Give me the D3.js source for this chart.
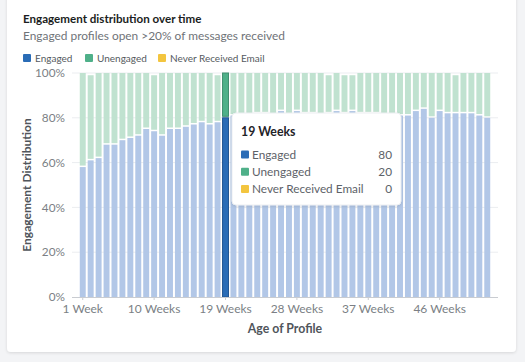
<!DOCTYPE html>
<html>
<head>
<meta charset="utf-8">
<script src="https://cdn.jsdelivr.net/npm/d3@7"></script>
<style>
  body { margin: 0; background: #f3f4f6; font-family: Lato, "Noto Sans", sans-serif; }
  svg { display: block; }
</style>
</head>
<body>
<script>
// chart data (percent of profiles per week of age)
const weeks = d3.range(1, 53).map(w => w === 1 ? "1 Week" : w + " Weeks");
const engaged = [58, 61, 62, 68, 68, 70, 71, 72, 75, 74, 72, 75, 75, 76, 77, 78, 77, 78, 80,
  81, 81, 81, 82, 82, 81, 83, 81, 83, 82, 82, 81, 82, 83, 82, 83, 82, 82, 82, 81, 81, 81,
  81, 83, 84, 80, 83, 82, 82, 82, 82, 81, 80];
const unengaged = [42, 38, 38, 32, 32, 30, 29, 28, 25, 25, 28, 25, 25, 24, 23, 22, 23, 21, 20,
  19, 19, 19, 18, 18, 19, 17, 19, 17, 18, 18, 19, 17, 17, 17, 16, 18, 18, 18, 19, 19, 19,
  19, 17, 16, 20, 17, 18, 17, 18, 18, 19, 20];
const neverReceived = weeks.map(() => 0);
const seriesNames = ["Engaged", "Unengaged", "Never Received Email"];
const yTicks = [0, 20, 40, 60, 80, 100];
const xTickLabels = ["1 Week", "10 Weeks", "19 Weeks", "28 Weeks", "37 Weeks", "46 Weeks"];
const highlighted = "19 Weeks";

const W = 525, H = 362;
const margin = { top: 73, right: 27, bottom: 65, left: 72 };

const colors = ["#2a6cb6", "#4fb089", "#f3c53f"];
const fadedColors = ["#b2c7e7", "#c0e2d0", "#f8e6aa"];

const svg = d3.select("body").append("svg")
  .attr("width", W)
  .attr("height", H);

// card
const defs = svg.append("defs");
const sh = defs.append("filter").attr("id", "shadow")
  .attr("x", "-10%").attr("y", "-10%").attr("width", "120%").attr("height", "130%");
sh.append("feDropShadow").attr("dx", 0).attr("dy", 1).attr("stdDeviation", 1.5)
  .attr("flood-color", "#000").attr("flood-opacity", 0.12);

svg.append("rect")
  .attr("x", 7).attr("y", -10)
  .attr("width", 509).attr("height", 362)
  .attr("rx", 4)
  .attr("fill", "#fff")
  .attr("filter", "url(#shadow)");

// title + subtitle
svg.append("text")
  .attr("x", 23).attr("y", 23)
  .attr("font-size", 11.6).attr("font-weight", 700)
  .attr("fill", "#1a1d21")
  .text("Engagement distribution over time");

svg.append("text")
  .attr("x", 23).attr("y", 39.5)
  .attr("font-size", 11.9)
  .attr("fill", "#6f7378")
  .text("Engaged profiles open >20% of messages received");

// legend
const legendX = [23, 85, 158];
const legend = svg.append("g").selectAll("g")
  .data(seriesNames)
  .enter().append("g")
  .attr("transform", (d, i) => "translate(" + legendX[i] + ",54)");
legend.append("rect")
  .attr("width", 8).attr("height", 8).attr("rx", 1)
  .attr("fill", (d, i) => colors[i]);
legend.append("text")
  .attr("x", 12).attr("y", 7.8)
  .attr("font-size", 10).attr("fill", "#555a60")
  .text(d => d);

const plotW = W - margin.left - margin.right;
const plotH = H - margin.top - margin.bottom;

const g = svg.append("g")
  .attr("transform", "translate(" + margin.left + "," + margin.top + ")");

const x = d3.scaleBand()
  .domain(weeks)
  .range([0, plotW])
  .paddingInner(0.25)
  .paddingOuter(0.98);

const y = d3.scaleLinear()
  .domain([0, 100])
  .range([plotH, 0]);

// gridlines
g.append("g").selectAll("line")
  .data(yTicks.filter(t => t > 0))
  .enter().append("line")
  .attr("x1", 0).attr("x2", plotW)
  .attr("y1", d => y(d)).attr("y2", d => y(d))
  .attr("stroke", "#ebedf0");

// y axis labels
g.append("g").selectAll("text")
  .data(yTicks)
  .enter().append("text")
  .attr("x", -7).attr("y", d => y(d))
  .attr("dy", "0.35em")
  .attr("text-anchor", "end")
  .attr("font-size", 11.8).attr("fill", "#7b7f85")
  .text(d => d + "%");

// stacked bars
const rows = weeks.map((w, i) => ({ week: w, vals: [engaged[i], unengaged[i], neverReceived[i]] }));
const gap = 1.5;
const bars = g.append("g").selectAll("g")
  .data(rows)
  .enter().append("g");

bars.each(function (d) {
  const sel = d3.select(this);
  const hi = d.week === highlighted;
  let base = 0;
  d.vals.forEach((v, k) => {
    if (v <= 0) return;
    const y0 = base, y1 = base + v;
    base = y1;
    const top = y(y1);
    const h = y(y0) - y(y1) - (y0 > 0 ? gap : 0);
    sel.append("rect")
      .attr("x", x(d.week))
      .attr("y", top)
      .attr("width", x.bandwidth())
      .attr("height", Math.max(0, h))
      .attr("fill", hi ? colors[k] : fadedColors[k])
      .attr("stroke", hi ? d3.color(colors[k]).darker(0.6) : "none")
      .attr("stroke-width", hi ? 1 : 0);
  });
});

// x axis
const xAxis = d3.axisBottom(x)
  .tickValues(xTickLabels)
  .tickSize(3)
  .tickPadding(4);

const xg = g.append("g")
  .attr("transform", "translate(0," + plotH + ")")
  .call(xAxis);
xg.select(".domain").attr("stroke", "#c9ccd1").attr("d", "M0,0.5H" + plotW);
xg.selectAll(".tick line").attr("stroke", "#c9ccd1");
xg.selectAll(".tick text")
  .attr("font-size", 12).attr("fill", "#7b7f85")
  .attr("font-family", "Lato, 'Noto Sans', sans-serif");

// axis titles
svg.append("text")
  .attr("x", margin.left + plotW / 2).attr("y", 332.5)
  .attr("text-anchor", "middle")
  .attr("font-size", 12.3).attr("font-weight", 700)
  .attr("fill", "#50555b")
  .text("Age of Profile");

svg.append("text")
  .attr("transform", "translate(31,185) rotate(-90)")
  .attr("text-anchor", "middle")
  .attr("font-size", 12).attr("font-weight", 700)
  .attr("fill", "#50555b")
  .text("Engagement Distribution");

// tooltip for highlighted week
const hiIdx = weeks.indexOf(highlighted);
const tip = svg.append("g").attr("transform", "translate(232,113)");
tip.append("rect")
  .attr("width", 169).attr("height", 92).attr("rx", 4)
  .attr("fill", "#fff")
  .attr("stroke", "#eceef1")
  .attr("filter", "url(#shadow)");
tip.append("text")
  .attr("x", 9).attr("y", 22.5)
  .attr("font-size", 12.3).attr("font-weight", 700).attr("fill", "#1f2328")
  .text(highlighted);
const tipVals = [engaged[hiIdx], unengaged[hiIdx], neverReceived[hiIdx]];
const tipRows = tip.selectAll("g.row")
  .data(seriesNames)
  .enter().append("g")
  .attr("class", "row")
  .attr("transform", (d, i) => "translate(9," + (37.5 + i * 17.3) + ")");
tipRows.append("rect")
  .attr("width", 8).attr("height", 8).attr("rx", 1)
  .attr("fill", (d, i) => colors[i]);
tipRows.append("text")
  .attr("x", 11).attr("y", 8)
  .attr("font-size", 11.8).attr("fill", "#5d6268")
  .text(d => d);
tipRows.append("text")
  .attr("x", 151).attr("y", 8)
  .attr("text-anchor", "end")
  .attr("font-size", 11.8).attr("fill", "#5d6268")
  .text((d, i) => tipVals[i]);
</script>
</body>
</html>
